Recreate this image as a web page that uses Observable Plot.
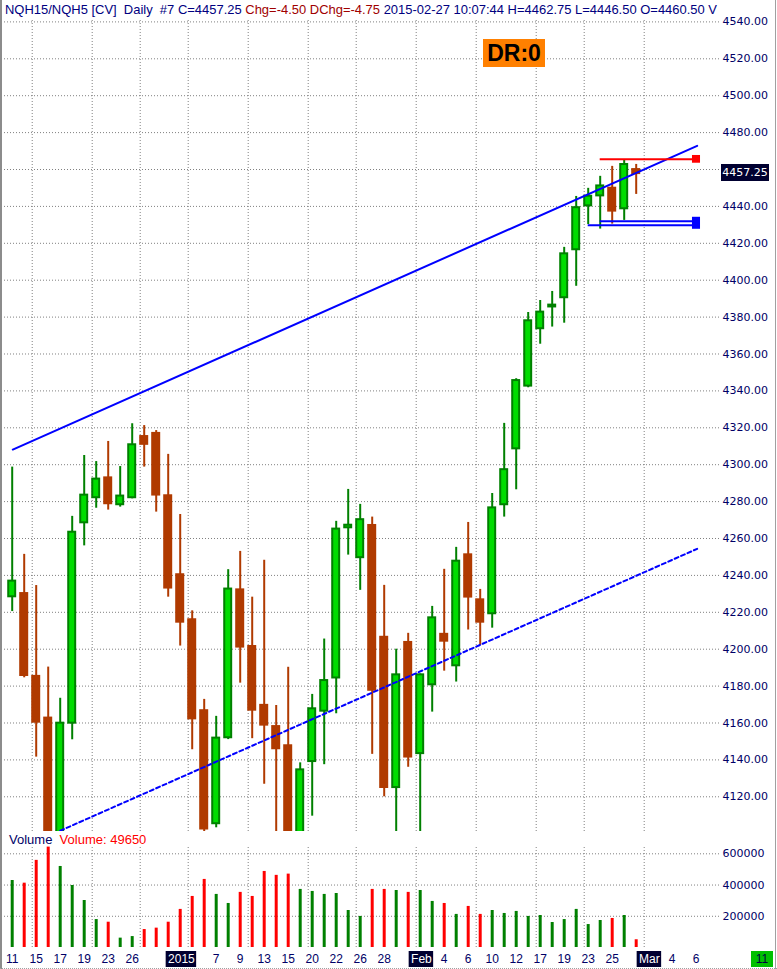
<!DOCTYPE html>
<html><head><meta charset="utf-8">
<script src="https://cdn.jsdelivr.net/npm/d3@7"></script>
<script src="https://cdn.jsdelivr.net/npm/@observablehq/plot@0.6"></script>
<style>
html,body{margin:0;padding:0;background:#fff;}
#wrap{position:relative;width:777px;height:969px;overflow:hidden;background:#fff;font-family:"Liberation Sans",Arial,sans-serif;}
.abs{position:absolute;}
svg{overflow:visible;}
</style></head><body><div id="wrap"></div>
<script>
// ---------- data ----------
const dates = ["2014-12-11","2014-12-12","2014-12-15","2014-12-16","2014-12-17","2014-12-18","2014-12-19","2014-12-22","2014-12-23","2014-12-24",
"2014-12-26","2014-12-29","2014-12-30","2014-12-31","2015-01-02","2015-01-05","2015-01-06","2015-01-07","2015-01-08","2015-01-09",
"2015-01-12","2015-01-13","2015-01-14","2015-01-15","2015-01-16","2015-01-20","2015-01-21","2015-01-22","2015-01-23","2015-01-26",
"2015-01-27","2015-01-28","2015-01-29","2015-01-30","2015-02-02","2015-02-03","2015-02-04","2015-02-05","2015-02-06","2015-02-09",
"2015-02-10","2015-02-11","2015-02-12","2015-02-13","2015-02-17","2015-02-18","2015-02-19","2015-02-20","2015-02-23","2015-02-24",
"2015-02-25","2015-02-26","2015-02-27","2015-03-02","2015-03-03","2015-03-04","2015-03-05","2015-03-06"];
const opens  = [4228.4,4230.7,4185.8,4163.2,4095.0,4159.9,4268.5,4282.1,4293.4,4278.3,4282.1,4315.8,4317.5,4283.7,4240.9,4216.5,4167.2,4105.4,4152.0,4232.7,
4202.0,4170.1,4158.6,4148.2,4098.0,4139.1,4166.4,4184.4,4265.8,4249.6,4267.6,4207.0,4125.0,4204.2,4143.4,4180.7,4208.6,4191.0,4251.7,4227.3,
4219.2,4278.3,4308.6,4342.6,4373.7,4385.5,4390.5,4416.5,4440.3,4445.7,4450.4,4438.7,4460.50];
const highs  = [4298.7,4251.4,4234.5,4190.3,4173.4,4272.0,4305.0,4301.7,4312.6,4299.0,4322.2,4321.2,4318.5,4305.6,4273.0,4220.8,4172.8,4163.6,4243.1,4253.0,
4228.2,4248.2,4169.5,4190.2,4138.4,4175.5,4205.5,4269.3,4286.6,4278.5,4271.6,4234.6,4200.0,4208.6,4186.6,4223.2,4243.3,4255.2,4268.7,4232.4,
4284.4,4322.4,4346.6,4382.5,4389.0,4393.9,4417.8,4445.4,4449.8,4456.3,4461.7,4464.9,4462.75];
const lows   = [4220.4,4184.5,4141.5,4080.0,4088.0,4150.9,4256.0,4276.4,4275.4,4277.0,4281.5,4298.7,4274.3,4228.2,4201.7,4145.5,4098.0,4103.2,4151.0,4181.6,
4151.5,4126.8,4095.0,4088.0,4090.0,4109.5,4137.4,4165.0,4251.0,4231.9,4143.0,4120.0,4095.0,4136.0,4097.0,4165.9,4188.1,4182.2,4210.4,4202.0,
4211.4,4271.6,4286.4,4341.7,4365.3,4374.6,4376.7,4396.7,4430.2,4427.7,4430.4,4432.4,4446.50];
const closes = [4236.9,4185.2,4159.9,4092.0,4159.9,4263.4,4283.5,4292.2,4278.3,4283.0,4310.8,4310.5,4283.0,4232.6,4214.1,4161.7,4102.0,4151.8,4232.6,4200.6,
4166.4,4158.3,4145.5,4096.0,4134.6,4167.7,4183.0,4265.1,4267.2,4270.2,4177.2,4124.5,4186.1,4141.0,4186.1,4217.0,4203.8,4247.7,4227.7,4214.1,
4276.6,4297.3,4345.6,4378.0,4382.7,4386.5,4414.3,4439.3,4445.5,4451.1,4436.9,4462.7,4457.25];
const volumes = [429000,412000,558000,643000,519000,397000,301000,179000,162000,60000,70000,115000,124000,162000,244000,327000,436000,340000,282000,353000,
327000,487000,462000,470000,372000,359000,340000,346000,237000,199000,372000,372000,365000,353000,365000,295000,282000,212000,263000,212000,
237000,218000,231000,199000,205000,160000,179000,244000,147000,173000,186000,205000,49650];
const priceTicks = d3.range(4120, 4541, 20);
const volumeTicks = [200000, 400000, 600000];
const xTickIndex = [0,2,4,6,8,10,14,17,19,21,23,25,27,29,31,34,36,38,40,42,44,46,48,50,53,55,57];
const xTickText  = ["11","15","17","19","23","26","2015","7","9","13","15","20","22","26","28","Feb","4","6","10","12","17","19","23","25","Mar","4","6"];
const xTickBoxed = ["2015","Feb","Mar"];
// drawn studies (index, price)
const upperChannel = [{i:0.05, p:4308.2},{i:57.08, p:4472.8}];
const lowerChannel = [{i:4.0, p:4101.6},{i:57.08, p:4254.4}];
const redLevel = {p:4465.6, from:49, to:56.7};
const blueLevels = [{p:4432.0, from:49, to:56.7},{p:4429.8, from:48, to:56.7}];
const lastPrice = 4457.25;
const lastVolume = 49650;

// ---------- styles ----------
const G_FILL = "#00dd00", G_EDGE = "#008000", DN = "#b03a00";
const NAVY = "#000066";
const W = 777, ML = 4, MR = 58;
const X = {type:"linear", domain:[-0.642, 58.942], axis:null};
const grid = {stroke:"#808080", strokeOpacity:1, strokeDasharray:"1,2", strokeWidth:1};

const candles = opens.map((o,i)=>({i, o, h:highs[i], l:lows[i], c:closes[i], v:volumes[i], up:closes[i] >= o}));
const upC = candles.filter(d=>d.up), dnC = candles.filter(d=>!d.up);
const weekStarts = dates.map((d,i)=>i).filter(i => i>0 && new Date(dates[i]).getUTCDay() < new Date(dates[i-1]).getUTCDay()).map(i=>i-1/3);

const wrap = document.getElementById("wrap");
function place(el, top){ el.style.position="absolute"; el.style.left="0px"; el.style.top=top+"px"; wrap.appendChild(el); return el; }

// ---------- price panel ----------
const price = Plot.plot({
  width:W, height:831, marginTop:20, marginBottom:0, marginLeft:ML, marginRight:MR,
  x:X, y:{domain:[4101.19, 4540.76], axis:null},
  style:{fontFamily:"DejaVu Sans", fontSize:"11px", background:"transparent", overflow:"visible"},
  marks:[
    Plot.gridY(priceTicks, grid),
    Plot.ruleX(weekStarts, grid),
    Plot.axisY(priceTicks, {anchor:"right", label:null, tickSize:0, tickPadding:3, tickFormat:d=>d.toFixed(2), fill:NAVY}),
    Plot.ruleX(dnC, {x:"i", y1:"l", y2:"h", stroke:DN, strokeWidth:2, clip:true}),
    Plot.ruleX(upC, {x:"i", y1:"l", y2:"h", stroke:G_EDGE, strokeWidth:2, clip:true}),
    Plot.rect(dnC, {x1:d=>d.i-0.375, x2:d=>d.i+0.375, y1:"c", y2:"o", fill:DN, clip:true}),
    Plot.rect(upC, {x1:d=>d.i-0.29, x2:d=>d.i+0.29, y1:"o", y2:"c", fill:G_FILL, stroke:G_EDGE, strokeWidth:2, clip:true}),
    Plot.line(upperChannel, {x:"i", y:"p", stroke:"#0000ff", strokeWidth:2, clip:true}),
    Plot.line(lowerChannel, {x:"i", y:"p", stroke:"#0000ff", strokeWidth:2, strokeDasharray:"4,3", clip:true}),
    Plot.ruleY([redLevel], {y:"p", x1:"from", x2:"to", stroke:"#ff0000", strokeWidth:2}),
    Plot.rect([redLevel], {x1:d=>d.to-0.01, x2:d=>d.to+0.66, y1:d=>d.p-2.2, y2:d=>d.p+2.0, fill:"#ff0000"}),
    Plot.ruleY(blueLevels, {y:"p", x1:"from", x2:"to", stroke:"#0000ff", strokeWidth:2}),
    Plot.rect([blueLevels], {x1:d=>d[0].to-0.01, x2:d=>d[0].to+0.66, y1:d=>d[1].p-2.2, y2:d=>d[0].p+2.1, fill:"#0000ff"})
  ]
});
place(price, 0);

// last price tag
const yLast = price.scale("y").apply(lastPrice);
const tag = document.createElement("div");
tag.textContent = lastPrice.toFixed(2);
Object.assign(tag.style,{position:"absolute", left:"721px", top:(yLast-10.5)+"px", width:"48px", height:"17px", background:"#000030", color:"#fff",
  font:"11px 'DejaVu Sans'", lineHeight:"17px", textAlign:"center"});
wrap.appendChild(tag);

// DR:0 badge
const dr = document.createElement("div");
dr.textContent = "DR:0";
Object.assign(dr.style,{position:"absolute", left:"483px", top:"39px", width:"62px", height:"28px", background:"#ff8000", color:"#000",
  font:"bold 23px 'Liberation Sans', Arial, sans-serif", lineHeight:"28px", textAlign:"center"});
wrap.appendChild(dr);

// title
const title = document.createElement("div");
title.innerHTML = '<span style="color:#000080">NQH15/NQH5 [CV]  Daily  #7 C=4457.25 </span><span style="color:#a00000">Chg=-4.50 DChg=-4.75 </span><span style="color:#000080">2015-02-27 10:07:44 H=4462.75 L=4446.50 O=4460.50 V</span>';
Object.assign(title.style,{position:"absolute", left:"5px", top:"1px", font:"13px 'Liberation Sans', Arial, sans-serif", whiteSpace:"pre", lineHeight:"18px", transformOrigin:"0 0"});
wrap.appendChild(title);
const tw = title.getBoundingClientRect().width;
title.style.transform = `scaleX(${712/tw})`;

// ---------- volume panel ----------
const vol = Plot.plot({
  width:W, height:115, marginTop:15, marginBottom:0, marginLeft:ML, marginRight:MR,
  x:X, y:{domain:[0, 640410], axis:null},
  style:{fontFamily:"DejaVu Sans", fontSize:"11px", background:"transparent", overflow:"visible"},
  marks:[
    Plot.gridY(volumeTicks, grid),
    Plot.ruleX(weekStarts, grid),
    Plot.axisY(volumeTicks, {anchor:"right", label:null, tickSize:0, tickPadding:3, tickFormat:d=>String(d), fill:NAVY}),
    Plot.ruleX(candles, {x:"i", y1:0, y2:"v", stroke:d=>d.up?"#008000":"#ff0000", strokeWidth:3})
  ]
});
place(vol, 832);

const vlab = document.createElement("div");
vlab.innerHTML = '<span style="color:#000066">Volume</span>&nbsp;&nbsp;<span style="color:#ff0000">Volume: ' + lastVolume + '</span>';
Object.assign(vlab.style,{position:"absolute", left:"9px", top:"832px", font:"13px 'Liberation Sans', Arial, sans-serif", lineHeight:"16px"});
wrap.appendChild(vlab);

// ---------- date axis strip ----------
const ticks = xTickIndex.map((i,k)=>({i, t:xTickText[k], boxed:xTickBoxed.includes(xTickText[k])}));
const axisStrip = Plot.plot({
  width:W, height:22, marginTop:0, marginBottom:0, marginLeft:ML, marginRight:MR,
  x:X, y:{domain:[0,22], range:[0,22], axis:null},
  style:{fontFamily:"'Liberation Sans', Arial, sans-serif", fontSize:"12px", background:"transparent", overflow:"visible"},
  marks:[
    Plot.rect(ticks.filter(d=>d.boxed), {x1:d=>d.i-(d.t.length>3?1.27:1.02)+0.1, x2:d=>d.i+(d.t.length>3?1.27:1.02)+0.1, y1:4, y2:20, fill:"#000030"}),
    Plot.text(ticks, {x:d=>d.i+(d.boxed?0.1:0), y:12, text:"t", fill:d=>d.boxed?"#ffffff":NAVY, fontSize:12})
  ]
});
place(axisStrip, 947);

const eleven = document.createElement("div");
eleven.textContent = "11";
Object.assign(eleven.style,{position:"absolute", left:"751px", top:"951px", width:"22px", height:"16px", background:"#00c000", color:"#000040",
  font:"12px 'Liberation Sans', Arial, sans-serif", lineHeight:"16px", textAlign:"center"});
wrap.appendChild(eleven);

// window frame
const fl = document.createElement("div");
Object.assign(fl.style,{position:"absolute", left:"0px", top:"0px", width:"2px", height:"969px", background:"#8c8c8c"});
wrap.appendChild(fl);
const fr = document.createElement("div");
Object.assign(fr.style,{position:"absolute", left:"775px", top:"0px", width:"1px", height:"969px", background:"#a0a0a0"});
wrap.appendChild(fr);
const fb = document.createElement("div");
Object.assign(fb.style,{position:"absolute", left:"0px", top:"968px", width:"777px", height:"0px", borderTop:"1px dotted #a0a0a0"});
wrap.appendChild(fb);
</script></body></html>
